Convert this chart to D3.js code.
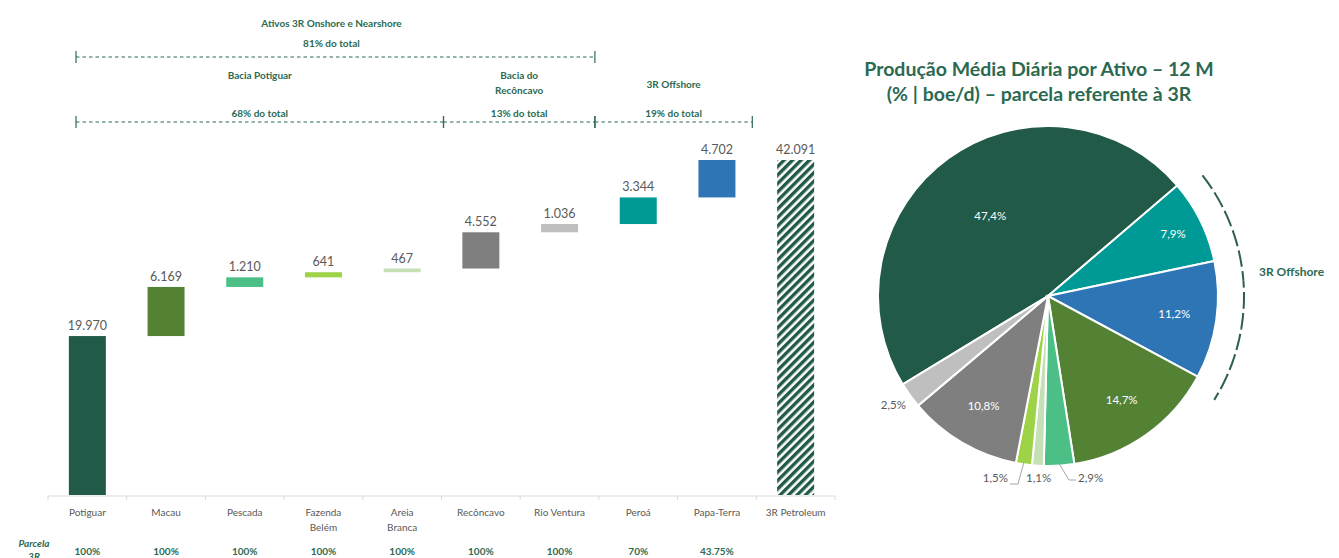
<!DOCTYPE html>
<html>
<head>
<meta charset="utf-8">
<script src="https://d3js.org/d3.v7.min.js"></script>
<style>
  body { margin: 0; background: #fff; }
  svg { font-family: Lato, "Open Sans", sans-serif; }
</style>
</head>
<body>
<svg id="chart" width="1339" height="558"></svg>
<script>
// ---- data ----
var categories = ["Potiguar", "Macau", "Pescada", "Fazenda Belém", "Areia Branca", "Recôncavo", "Rio Ventura", "Peroá", "Papa-Terra", "3R Petroleum"];
var labelLines = [["Potiguar"], ["Macau"], ["Pescada"], ["Fazenda", "Belém"], ["Areia", "Branca"], ["Recôncavo"], ["Rio Ventura"], ["Peroá"], ["Papa-Terra"], ["3R Petroleum"]];
var production = [19970, 6169, 1210, 641, 467, 4552, 1036, 3344, 4702];
var total = 42091;
var shares = ["100%", "100%", "100%", "100%", "100%", "100%", "100%", "70%", "43.75%", ""];
var colors = ["#215a48", "#548235", "#4cbf87", "#9ed348", "#c5e0b4", "#7f7f7f", "#bfbfbf", "#009a96", "#2e75b6"];

// bracket groups: [first category index, last category index]
var topGroup = { name: "Ativos 3R Onshore e Nearshore", pct: "81% do total", from: 0, to: 6 };
var subGroups = [
  { name: ["Bacia Potiguar"], pct: "68% do total", from: 0, to: 4 },
  { name: ["Bacia do", "Recôncavo"], pct: "13% do total", from: 5, to: 6 },
  { name: ["3R Offshore"], pct: "19% do total", from: 7, to: 8 }
];

// pie order (clockwise) and percentage labels
var pieOrder = ["Potiguar", "Peroá", "Papa-Terra", "Macau", "Pescada", "Areia Branca", "Fazenda Belém", "Recôncavo", "Rio Ventura"];
var pieLabels = { "Potiguar": "47,4%", "Peroá": "7,9%", "Papa-Terra": "11,2%", "Macau": "14,7%", "Pescada": "2,9%", "Areia Branca": "1,1%", "Fazenda Belém": "1,5%", "Recôncavo": "10,8%", "Rio Ventura": "2,5%" };

var green = "#2c6a52";
var grey = "#595959";

var svg = d3.select("#chart");

var locale = d3.formatLocale({ decimal: ",", thousands: ".", grouping: [3], currency: ["", ""] });
var fmt = locale.format(",d");

// ---- waterfall ----
var x = d3.scaleBand().domain(categories).range([48, 835]).paddingInner(0.53).paddingOuter(0.265);
var y = d3.scaleLinear().domain([0, total]).range([495, 160]);
var step = x.step();

var defs = svg.append("defs");
var pat = defs.append("pattern").attr("id", "hatch").attr("patternUnits", "userSpaceOnUse")
  .attr("width", 6).attr("height", 6).attr("patternTransform", "rotate(45)");
pat.append("rect").attr("width", 6).attr("height", 6).attr("fill", "#fff");
pat.append("rect").attr("width", 3.4).attr("height", 6).attr("fill", "#215a48");

var steps = [];
var running = 0;
production.forEach(function (v, i) {
  steps.push({ cat: categories[i], y0: running, y1: running + v, value: v, color: colors[i] });
  running += v;
});
steps.push({ cat: categories[9], y0: 0, y1: total, value: total, color: "url(#hatch)" });

var g = svg.append("g");

g.selectAll("rect.bar").data(steps).enter().append("rect")
  .attr("class", "bar")
  .attr("x", function (d) { return x(d.cat); })
  .attr("width", x.bandwidth())
  .attr("y", function (d) { return y(d.y1); })
  .attr("height", function (d) { return y(d.y0) - y(d.y1); })
  .attr("fill", function (d) { return d.color; });

g.selectAll("text.val").data(steps).enter().append("text")
  .attr("class", "val")
  .attr("x", function (d) { return x(d.cat) + x.bandwidth() / 2; })
  .attr("y", function (d) { return y(d.y1) - 6; })
  .attr("text-anchor", "middle")
  .attr("font-size", 12.5)
  .attr("fill", grey)
  .text(function (d) { return fmt(d.value); });

// axis line with ticks on band edges
var axisY = y(0) + 1;
g.append("line").attr("x1", 48).attr("x2", 835).attr("y1", axisY).attr("y2", axisY)
  .attr("stroke", "#d9d9d9").attr("stroke-width", 1);
d3.range(categories.length + 1).forEach(function (i) {
  var tx = 48 + i * step;
  g.append("line").attr("x1", tx).attr("x2", tx).attr("y1", axisY).attr("y2", axisY + 4)
    .attr("stroke", "#d9d9d9");
});

var cl = g.selectAll("text.cat").data(categories).enter().append("text")
  .attr("class", "cat")
  .attr("x", function (d) { return x(d) + x.bandwidth() / 2; })
  .attr("y", 516)
  .attr("text-anchor", "middle")
  .attr("font-size", 10)
  .attr("fill", grey);
cl.selectAll("tspan").data(function (d, i) { return labelLines[i]; }).enter().append("tspan")
  .attr("x", function () { return d3.select(this.parentNode).attr("x"); })
  .attr("dy", function (d, i) { return i === 0 ? 0 : 15; })
  .text(function (d) { return d; });

g.selectAll("text.share").data(shares).enter().append("text")
  .attr("class", "share")
  .attr("x", function (d, i) { return x(categories[i]) + x.bandwidth() / 2; })
  .attr("y", 555)
  .attr("text-anchor", "middle")
  .attr("font-size", 10)
  .attr("font-weight", "bold")
  .attr("fill", green)
  .text(function (d) { return d; });

g.append("text").attr("x", 34).attr("y", 547).attr("text-anchor", "middle")
  .attr("font-size", 10).attr("font-weight", "bold").attr("font-style", "italic").attr("fill", green)
  .text("Parcela");
g.append("text").attr("x", 34).attr("y", 560).attr("text-anchor", "middle")
  .attr("font-size", 10).attr("font-weight", "bold").attr("font-style", "italic").attr("fill", green)
  .text("3R");

// ---- brackets ----
function edgeRight(i) { return 48 + (i + 1) * step - (i === 4 ? -2 : 4); }
function edgeLeft(i) { return i === 0 ? 76 : edgeRight(i - 1); }

function bracket(x1, x2, yy) {
  g.append("line").attr("x1", x1).attr("x2", x2).attr("y1", yy).attr("y2", yy)
    .attr("stroke", green).attr("stroke-width", 1).attr("stroke-dasharray", "3.5,3");
  [x1, x2].forEach(function (xx) {
    g.append("line").attr("x1", xx).attr("x2", xx).attr("y1", yy - 6).attr("y2", yy + 6)
      .attr("stroke", green).attr("stroke-width", 1.2);
  });
}

var tx1 = edgeLeft(topGroup.from), tx2 = edgeRight(topGroup.to);
bracket(tx1, tx2, 57);
g.append("text").attr("x", (tx1 + tx2) / 2 - 4).attr("y", 27).attr("text-anchor", "middle")
  .attr("font-size", 10).attr("font-weight", "bold").attr("fill", green).text(topGroup.name);
g.append("text").attr("x", (tx1 + tx2) / 2 - 4).attr("y", 47).attr("text-anchor", "middle")
  .attr("font-size", 10).attr("font-weight", "bold").attr("fill", green).text(topGroup.pct);

subGroups.forEach(function (sg) {
  var a = edgeLeft(sg.from), b = edgeRight(sg.to);
  bracket(a, b, 122);
  var cx = (a + b) / 2;
  var ny = sg.name.length > 1 ? 79 : (sg.from === 7 ? 88 : 79);
  sg.name.forEach(function (line, k) {
    g.append("text").attr("x", cx).attr("y", ny + k * 15).attr("text-anchor", "middle")
      .attr("font-size", 10).attr("font-weight", "bold").attr("fill", green).text(line);
  });
  g.append("text").attr("x", cx).attr("y", 117).attr("text-anchor", "middle")
    .attr("font-size", 10).attr("font-weight", "bold").attr("fill", green).text(sg.pct);
});

// ---- pie ----
var cx = 1048, cy = 296, R = 170;
var pieData = pieOrder.map(function (c) {
  var i = categories.indexOf(c);
  return { cat: c, value: production[i], color: colors[i] };
});
var start = -121.3 * Math.PI / 180;
var pie = d3.pie().sort(null).value(function (d) { return d.value; })
  .startAngle(start).endAngle(start + 2 * Math.PI);
var arcs = pie(pieData);
var arc = d3.arc().innerRadius(0).outerRadius(R);

var pg = svg.append("g").attr("transform", "translate(" + cx + "," + cy + ")");
pg.selectAll("path").data(arcs).enter().append("path")
  .attr("d", arc)
  .attr("fill", function (d) { return d.data.color; })
  .attr("stroke", "#fff").attr("stroke-width", 2);

// label placement: inside labels at a radius, outside ones with offsets
var inside = { "Potiguar": 0.58, "Peroá": 0.82, "Papa-Terra": 0.75, "Macau": 0.75, "Recôncavo": 0.75 };
function polar(a, r) { return [r * Math.sin(a), -r * Math.cos(a)]; }

arcs.forEach(function (d) {
  var mid = (d.startAngle + d.endAngle) / 2;
  var txt = pieLabels[d.data.cat];
  if (inside[d.data.cat]) {
    var p = polar(mid, R * inside[d.data.cat]);
    pg.append("text").attr("x", p[0]).attr("y", p[1] + 4).attr("text-anchor", "middle")
      .attr("font-size", 11.5).attr("fill", "#fff").text(txt);
  }
});

function outLabel(cat, tx, ty, anchor, leader) {
  var d = arcs.filter(function (a) { return a.data.cat === cat; })[0];
  var mid = (d.startAngle + d.endAngle) / 2;
  var e = polar(mid, R);
  pg.append("text").attr("x", tx).attr("y", ty).attr("text-anchor", anchor)
    .attr("font-size", 11.5).attr("fill", grey).text(pieLabels[cat]);
  if (leader) {
    pg.append("polyline")
      .attr("points", [[e[0], e[1] - 2], leader[0], leader[1]].map(function (p) { return p.join(","); }).join(" "))
      .attr("fill", "none").attr("stroke", "#a6a6a6").attr("stroke-width", 1);
  }
}
outLabel("Rio Ventura", -142, 113, "end", null);
outLabel("Fazenda Belém", -40, 186, "end", [[-30, 188], [-38, 188]]);
outLabel("Areia Branca", -22, 186, "start", null);
outLabel("Pescada", 30, 186, "start", [[21, 184], [28, 184]]);

// 3R Offshore dash-dot arc
var a0 = 52 * Math.PI / 180, a1 = 122 * Math.PI / 180;
pg.append("path")
  .attr("d", d3.arc().innerRadius(196).outerRadius(196).startAngle(a0).endAngle(a1)())
  .attr("fill", "none").attr("stroke", "#2f5e4e").attr("stroke-width", 2)
  .attr("stroke-dasharray", "9,5,2,5");
svg.append("text").attr("x", 1259).attr("y", 276).attr("font-size", 12).attr("font-weight", "bold")
  .attr("fill", green).text("3R Offshore");

// title
var title = svg.append("text").attr("x", 1039).attr("y", 76).attr("text-anchor", "middle")
  .attr("font-size", 19.5).attr("font-weight", "bold").attr("fill", "#2b6a52");
title.append("tspan").attr("x", 1039).text("Produção Média Diária por Ativo – 12 M");
title.append("tspan").attr("x", 1039).attr("dy", 25).text("(% | boe/d) – parcela referente à 3R");
</script>
</body>
</html>
